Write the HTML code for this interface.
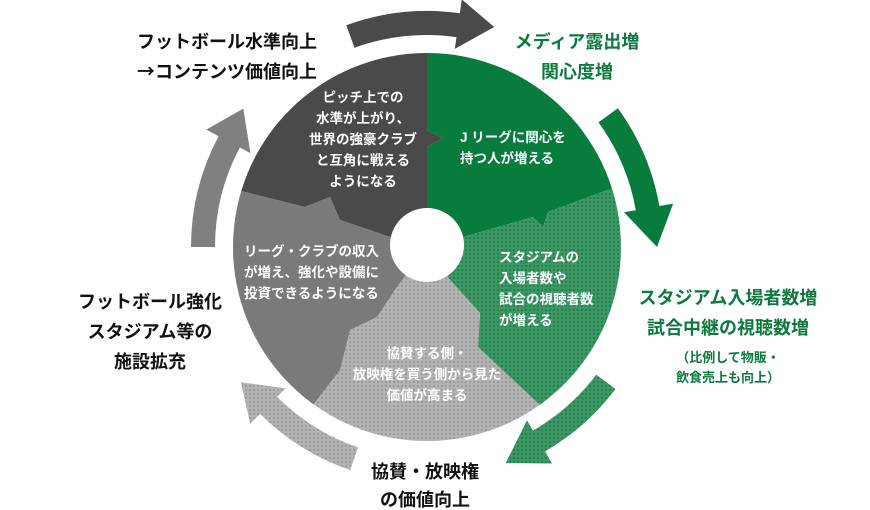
<!DOCTYPE html>
<html><head><meta charset="utf-8"><style>
html,body{margin:0;padding:0;background:#fff;}
svg{display:block;}
text{font-family:"Liberation Sans","Noto Sans CJK JP",sans-serif;font-weight:bold;}
.o{font-size:18px;fill:#111;}
.g{font-size:18px;fill:#0b7a3d;}
.w{font-size:13.5px;fill:#fff;}
</style></head><body>
<svg id="s" width="870" height="510" viewBox="0 0 870 510" xmlns="http://www.w3.org/2000/svg">
<defs>
<pattern id="pg" width="4" height="4" patternUnits="userSpaceOnUse"><rect width="4" height="4" fill="#3b9763"/><circle cx="2" cy="2" r="0.9" fill="#1d6e40"/></pattern>
<pattern id="pl" width="4" height="4" patternUnits="userSpaceOnUse"><rect width="4" height="4" fill="#b3b3b3"/><circle cx="2" cy="2" r="0.9" fill="#8a8a8a"/></pattern>
<clipPath id="cc"><circle cx="427" cy="247" r="194"/></clipPath>
</defs>
<g clip-path="url(#cc)">
<polygon fill="#4a4a4a" points="427,247 390,237 340,220 330,197 305,207 237,190 150,170 150,0 427,0 427,130 443,138 427,147"/>
<polygon fill="#077c3d" points="427,247 427,147 443,138 427,130 427,0 700,0 700,160 613,188 548,212 543,227 533,217 463,237"/>
<polygon fill="url(#pg)" points="427,247 463,237 533,217 543,227 548,212 613,188 700,160 700,500 600,460 542,407 478,347 480,313 450,280"/>
<polygon fill="url(#pl)" points="427,247 450,280 480,313 478,347 542,407 600,460 250,460 313,405 340,370 350,330 377,317 397,287"/>
<polygon fill="#7a7a7a" points="427,247 397,287 377,317 350,330 340,370 313,405 250,460 150,460 150,170 237,190 305,207 330,197 340,220 390,237"/>
</g>
<circle cx="427" cy="245" r="37" fill="#fff"/>
<g id="arrows"></g>

<g class="w">
<text x="363" y="102" text-anchor="middle">ピッチ上での</text>
<text x="363" y="123" text-anchor="middle">水準が上がり、</text>
<text x="363" y="144" text-anchor="middle">世界の強豪クラブ</text>
<text x="363" y="165" text-anchor="middle">と互角に戦える</text>
<text x="363" y="186" text-anchor="middle">ようになる</text>
<text x="460" y="142">J リーグに関心を</text>
<text x="460" y="163">持つ人が増える</text>
<text x="499" y="262">スタジアムの</text>
<text x="499" y="283">入場者数や</text>
<text x="499" y="304">試合の視聴者数</text>
<text x="499" y="325">が増える</text>
<text x="427" y="358" text-anchor="middle">協賛する側・</text>
<text x="427" y="379" text-anchor="middle">放映権を買う側から見た</text>
<text x="427" y="400" text-anchor="middle">価値が高まる</text>
<text x="244" y="256">リーグ・クラブの収入</text>
<text x="244" y="277">が増え、強化や設備に</text>
<text x="244" y="298">投資できるようになる</text>
</g>
<g class="o">
<text x="317" y="48" text-anchor="end">フットボール水準向上</text>
<text x="317" y="78" text-anchor="end"><tspan style="font-family:'Noto Sans CJK JP',sans-serif">→</tspan>コンテンツ価値向上</text>
<text x="150" y="308" text-anchor="middle">フットボール強化</text>
<text x="150" y="338" text-anchor="middle">スタジアム等の</text>
<text x="150" y="368" text-anchor="middle">施設拡充</text>
<text x="425" y="478" text-anchor="middle">協賛・放映権</text>
<text x="425" y="506" text-anchor="middle">の価値向上</text>
</g>
<g class="g">
<text x="577" y="48" text-anchor="middle">メディア露出増</text>
<text x="577" y="78" text-anchor="middle">関心度増</text>
<text x="728" y="304" text-anchor="middle">スタジアム入場者数増</text>
<text x="728" y="334" text-anchor="middle">試合中継の視聴数増</text>
<text x="728" y="362" text-anchor="middle" style="font-size:13px">（比例して物販・</text>
<text x="728" y="382" text-anchor="middle" style="font-size:13px">飲食売上も向上）</text>
</g>
</svg>
<script>
(function(){
var cx=427,cy=247,r1=212,r2=236,h1=200,h2=250,rt=230;
function p(r,a){a=a*Math.PI/180;return (cx+r*Math.sin(a)).toFixed(1)+","+(cy-r*Math.cos(a)).toFixed(1);}
var A=[[-20,8,17,"#4a4a4a"],[54,80,90,"#077c3d"],[127,150,160,"url(#pg)"],[199,225,234,"url(#pl)"],[270,298,307,"#808080"]];
var g=document.getElementById("arrows"),s="";
A.forEach(function(a){
var d="M"+p(r2,a[0])+" A"+r2+","+r2+" 0 0 1 "+p(r2,a[1])+" L"+p(h2,a[1])+" L"+p(rt,a[2])+" L"+p(h1,a[1])+" L"+p(r1,a[1])+" A"+r1+","+r1+" 0 0 0 "+p(r1,a[0])+" Z";
s+='<path d="'+d+'" fill="'+a[3]+'"/>';});
g.innerHTML=s;
})();
</script>
</body></html>
